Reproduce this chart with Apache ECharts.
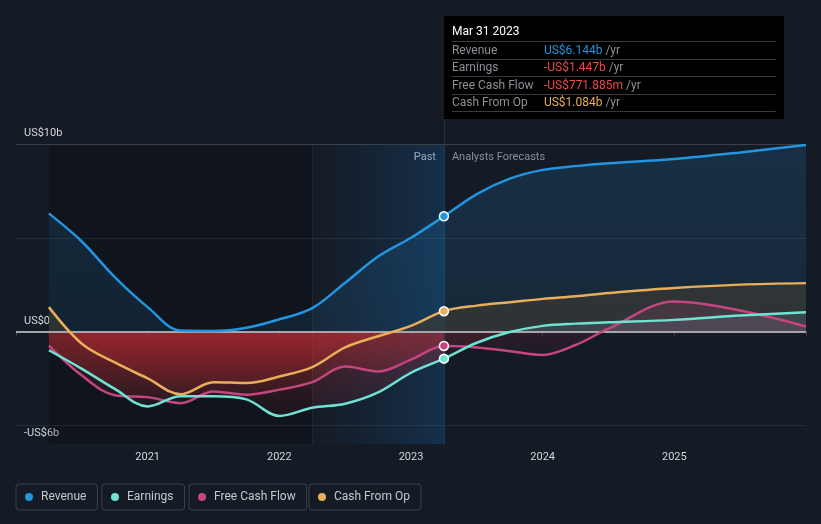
<!DOCTYPE html>
<html><head><meta charset="utf-8">
<script src="https://cdn.jsdelivr.net/npm/echarts@6/dist/echarts.min.js"></script>
<style>html,body{margin:0;padding:0;background:#151b25;}#c{width:821px;height:524px;}</style>
</head><body><div id="c"></div>
<script>
// ---- data (values in US$ billions, x as decimal years) ----
const pastDates = [2020.25, 2020.5, 2020.75, 2021.0, 2021.25, 2021.5, 2021.75, 2022.0, 2022.25, 2022.5, 2022.75, 2023.0, 2023.25];
const revenuePast  = [6.3, 4.8, 2.9, 1.3, 0.05, 0.03, 0.2, 0.65, 1.25, 2.6, 4.0, 5.0, 6.144];
const earningsPast = [-1.0, -1.99, -3.06, -4.0, -3.45, -3.45, -3.62, -4.5, -4.07, -3.85, -3.25, -2.2, -1.447];
const fcfPast      = [-0.75, -2.35, -3.4, -3.5, -3.82, -3.2, -3.37, -3.1, -2.7, -1.87, -2.13, -1.5, -0.771885];
const cfoPast      = [1.3, -0.65, -1.65, -2.5, -3.35, -2.7, -2.75, -2.4, -1.9, -0.85, -0.25, 0.3, 1.084];

const fcDates = [2023.25, 2023.5, 2023.75, 2024.0, 2024.25, 2024.5, 2025.0, 2025.5, 2026.0];
const revenueFc  = [6.144, 7.33, 8.15, 8.62, 8.82, 8.97, 9.2, 9.55, 9.95];
const earningsFc = [-1.447, -0.6, -0.03, 0.3, 0.42, 0.49, 0.62, 0.85, 1.03];
const fcfFc      = [-0.771885, -0.85, -1.05, -1.25, -0.72, 0.15, 1.6, 1.12, 0.27];
const cfoFc      = [1.084, 1.38, 1.56, 1.74, 1.88, 2.05, 2.32, 2.5, 2.58];

const seriesNames = ['Revenue', 'Earnings', 'Free Cash Flow', 'Cash From Op'];
const tipDate = 'Mar 31 2023';
const yTickLabels = {10: 'US$10b', 0: 'US$0', '-6': '-US$6b'};
const xTickYears = [2021, 2022, 2023, 2024, 2025];
const highlightStart = 2022.25;
const yMin = -6, yMax = 10, xMin = 2020, xMax = 2026;
const gridValues = [10, 5, -5];

// ---- styling ----
const colors = {Revenue: '#2394df', Earnings: '#6fe3d3', 'Free Cash Flow': '#c4467f', 'Cash From Op': '#e8ae5a'};
const FONT = 'Roboto, "Noto Sans", sans-serif';

const pairs = (xs, ys) => xs.map((x, i) => [x, ys[i]]);
function splitGradient(vals, above, redTop, redBottom) {
  const mx = Math.max(0, ...vals), mn = Math.min(0, ...vals);
  const z = mx === mn ? 0 : mx / (mx - mn);
  return new echarts.graphic.LinearGradient(0, 0, 0, 1, [
    {offset: 0, color: above}, {offset: z, color: above},
    {offset: z, color: redTop}, {offset: 1, color: redBottom}]);
}
function areaSeries(name, xs, ys, fill, z) {
  return {name, type: 'line', data: pairs(xs, ys), smooth: 0.35, symbol: 'none', silent: true,
    lineStyle: {width: 0, opacity: 0}, itemStyle: {color: colors[name]},
    areaStyle: {color: fill, opacity: 1}, z, emphasis: {disabled: true}};
}
function lineSeries(name, pastVals, fcVals) {
  const data = pairs(pastDates, pastVals).concat(pairs(fcDates.slice(1), fcVals.slice(1)));
  const last = pastDates.length - 1;
  data[last] = {value: data[last], symbol: 'circle', symbolSize: 9,
    itemStyle: {color: colors[name], borderColor: '#ffffff', borderWidth: 1.5}};
  return {name, type: 'line', data, smooth: 0.35, symbol: 'none', showSymbol: true,
    lineStyle: {width: 2.5, color: colors[name]}, itemStyle: {color: colors[name]}, z: 4,
    emphasis: {disabled: true}, silent: true};
}

const revFill = new echarts.graphic.LinearGradient(0, 0, 0, 1, [
  {offset: 0, color: 'rgba(35,148,224,0.17)'}, {offset: 1, color: 'rgba(35,148,224,0.11)'}]);
const cfoAbove = 'rgba(62,60,50,0.6)';
const earnAbove = 'rgba(120,130,160,0.2)';
const fcfAbove = 'rgba(196,70,127,0.15)';
const redPastTop = 'rgba(205,45,50,0.33)', redPastBot = 'rgba(205,45,50,0.05)';
const redFcTop = 'rgba(190,45,60,0.13)', redFcBot = 'rgba(190,45,60,0.05)';

const series = [
  // background regions & gridlines
  {type: 'line', data: [], silent: true, z: 1,
    markArea: {silent: true, z: 1, data: [
      [{xAxis: pastDates[0], itemStyle: {color: 'rgba(0,0,0,0.2)'}}, {xAxis: highlightStart}],
      [{xAxis: highlightStart, itemStyle: {color: new echarts.graphic.LinearGradient(0, 0, 1, 0, [
        {offset: 0, color: 'rgba(20,55,90,0.04)'}, {offset: 1, color: 'rgba(20,70,115,0.48)'}])}},
       {xAxis: pastDates[pastDates.length - 1]}]
    ]},
    markLine: {silent: true, z: 1, symbol: ['none', 'none'], label: {show: false}, animation: false,
      data: [
        {yAxis: gridValues[0], lineStyle: {color: '#3a404a', width: 1, type: 'solid'}},
        {yAxis: gridValues[1], lineStyle: {color: 'rgba(255,255,255,0.07)', width: 1, type: 'solid'}},
        {yAxis: gridValues[2], lineStyle: {color: 'rgba(255,255,255,0.07)', width: 1, type: 'solid'}},
        {xAxis: highlightStart, lineStyle: {color: 'rgba(255,255,255,0.06)', width: 1, type: 'solid'}},
        {xAxis: pastDates[pastDates.length - 1], lineStyle: {color: '#1d3a56', width: 1, type: 'solid'}}
      ]}},
  areaSeries('Revenue', pastDates.concat(fcDates.slice(1)), revenuePast.concat(revenueFc.slice(1)), revFill, 2),
  areaSeries('Cash From Op', pastDates, cfoPast, splitGradient(cfoPast, cfoAbove, redPastTop, redPastBot), 2),
  areaSeries('Cash From Op', fcDates, cfoFc, splitGradient(cfoFc, cfoAbove, redFcTop, redFcBot), 2),
  areaSeries('Free Cash Flow', pastDates, fcfPast, splitGradient(fcfPast, fcfAbove, redPastTop, redPastBot), 2),
  areaSeries('Free Cash Flow', fcDates, fcfFc, splitGradient(fcfFc, fcfAbove, redFcTop, redFcBot), 2),
  areaSeries('Earnings', pastDates, earningsPast, splitGradient(earningsPast, earnAbove, redPastTop, redPastBot), 2),
  areaSeries('Earnings', fcDates, earningsFc, splitGradient(earningsFc, earnAbove, redFcTop, redFcBot), 2),
  // zero line
  {type: 'line', data: [], silent: true, z: 3,
    markLine: {silent: true, z: 3, symbol: ['none', 'none'], label: {show: false}, animation: false,
      data: [{yAxis: 0, lineStyle: {color: '#a3a6ab', width: 2, type: 'solid'}}]}},
  lineSeries('Cash From Op', cfoPast, cfoFc),
  lineSeries('Free Cash Flow', fcfPast, fcfFc),
  lineSeries('Earnings', earningsPast, earningsFc),
  lineSeries('Revenue', revenuePast, revenueFc)
];

const legendLefts = [16, 102, 189, 309];
const legends = seriesNames.map((n, i) => ({
  data: [n], left: legendLefts[i], top: 484, orient: 'horizontal', icon: 'circle',
  itemWidth: 14, itemHeight: 8, padding: [7, 11, 7, 9],
  borderColor: '#3b414b', borderWidth: 1, borderRadius: 3,
  textStyle: {color: '#c5c9cf', fontSize: 12, fontFamily: FONT}, selectedMode: true
}));

const chart = echarts.init(document.getElementById('c'), null, {renderer: 'canvas'});
chart.setOption({
  backgroundColor: '#151b25',
  animation: false,
  grid: {left: 16, right: 15, top: 144, bottom: 80, containLabel: false},
  xAxis: {type: 'value', min: xMin, max: xMax, interval: 1,
    axisLine: {show: true, lineStyle: {color: '#454b54', width: 1}},
    axisTick: {show: true, length: 4, lineStyle: {color: '#454b54'}},
    splitLine: {show: false},
    axisLabel: {color: '#d3d6da', fontSize: 11, fontFamily: FONT, margin: 8,
      formatter: v => xTickYears.includes(v) ? String(v) : ''}},
  yAxis: {type: 'value', min: yMin, max: yMax, interval: 1,
    axisLine: {show: false}, axisTick: {show: false}, splitLine: {show: false},
    axisLabel: {inside: true, margin: 8, color: '#d3d6da', fontSize: 11, fontFamily: FONT,
      verticalAlign: 'bottom', padding: [0, 0, 5, 0],
      formatter: v => (yTickLabels[v] !== undefined ? yTickLabels[v] : '')}},
  legend: legends,
  series
});

// ---- annotation box anchored at the latest actual point ----
const lastDate = pastDates[pastDates.length - 1];
const [lx, topY] = chart.convertToPixel({gridIndex: 0}, [lastDate, yMax]);
const lastVals = [revenuePast, earningsPast, fcfPast, cfoPast].map(a => a[a.length - 1]);
const fmt = v => {
  const s = v < 0 ? '-' : '';
  const a = Math.abs(v);
  return a < 1 ? s + 'US$' + (a * 1000).toFixed(3) + 'm' : s + 'US$' + a.toFixed(3) + 'b';
};
const valColor = (i, v) => (i === 0 ? colors.Revenue : i === 3 ? colors['Cash From Op'] : (v < 0 ? '#f0484b' : colors[seriesNames[i]]));
const boxY = 16, boxW = 340, boxH = 103, rowY0 = 50.5, rowStep = 17.5, sepY0 = 41;
const g = [
  {type: 'line', shape: {x1: lx + 0.5, y1: boxY + boxH, x2: lx + 0.5, y2: topY}, style: {stroke: '#1d3a56', lineWidth: 1}, silent: true},
  {type: 'rect', shape: {x: lx, y: boxY, width: boxW, height: boxH}, style: {fill: '#000000'}, silent: true},
  {type: 'text', x: lx + 8, y: 32, style: {text: tipDate, fill: '#ffffff', font: '12px ' + FONT, verticalAlign: 'middle'}, silent: true},
  {type: 'text', x: lx - 8, y: 157, style: {text: 'Past', fill: '#eef0f2', font: '11px ' + FONT, align: 'right', verticalAlign: 'middle'}, silent: true},
  {type: 'text', x: lx + 8, y: 157, style: {text: 'Analysts Forecasts', fill: '#8a9099', font: '11px ' + FONT, align: 'left', verticalAlign: 'middle'}, silent: true}
];
for (let i = 0; i <= seriesNames.length; i++) {
  const yy = Math.round(sepY0 + i * rowStep) + 0.5;
  g.push({type: 'line', shape: {x1: lx + 8, y1: yy, x2: lx + boxW - 8, y2: yy},
    style: {stroke: '#3a3a3a', lineWidth: 1}, silent: true});
}
seriesNames.forEach((n, i) => {
  const y = rowY0 + i * rowStep;
  g.push({type: 'text', x: lx + 8, y, style: {text: n, fill: '#8c9096', font: '12px ' + FONT, verticalAlign: 'middle'}, silent: true});
  g.push({type: 'text', x: lx + 100, y, style: {
    text: '{v|' + fmt(lastVals[i]) + '} {u|/yr}', verticalAlign: 'middle', font: '12px ' + FONT,
    rich: {v: {fill: valColor(i, lastVals[i]), font: '12px ' + FONT}, u: {fill: '#8c9096', font: '12px ' + FONT}}}, silent: true});
});
chart.setOption({graphic: g});
</script></body></html>
